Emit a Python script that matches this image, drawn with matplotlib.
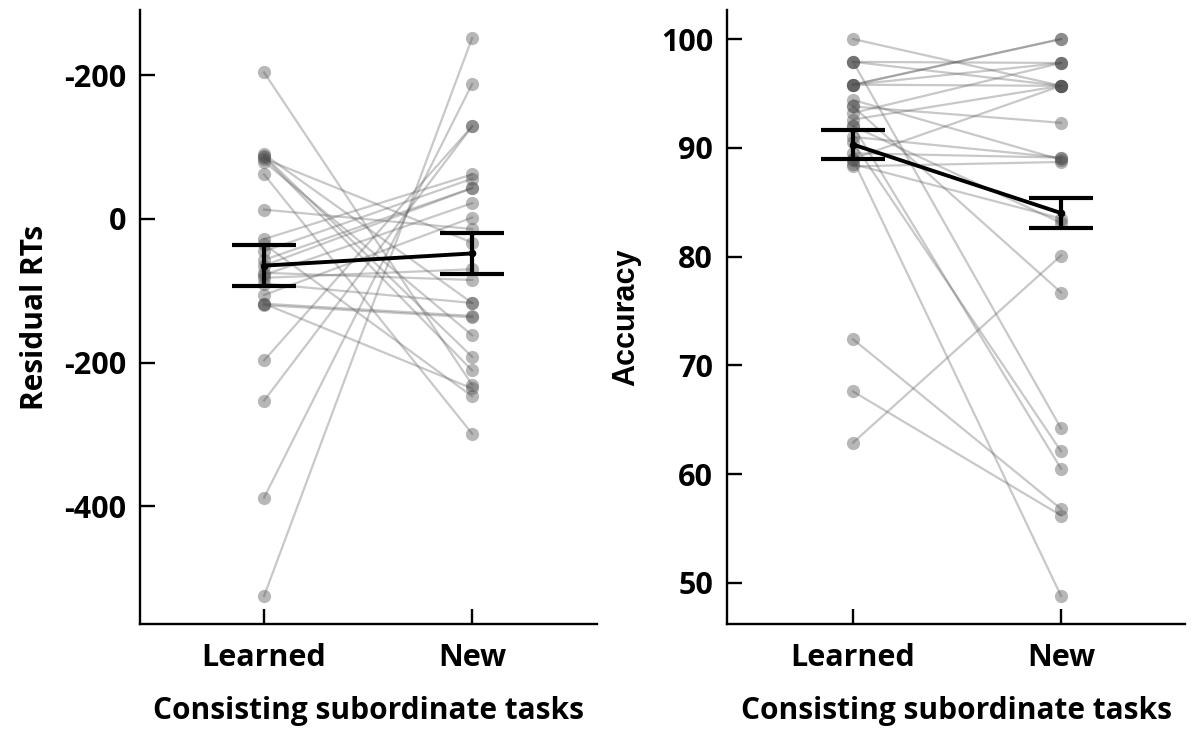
import numpy as np
import matplotlib
matplotlib.use("Agg")
import matplotlib.pyplot as plt

# conditions
conditions = ["Learned", "New"]

# residual RTs per subject (learned, new)
rt_learned = [204, 88, 86, 84, 62, 13, -28, -45, -57, -65, -78, -82, -106,
              -118, -118, -120, -197, -253, -388, -525, 80, 90, -35, -75, -90]
rt_new = [-231, -192, -211, -33, -299, -14, 62, 56, 43, 43, 22, -70, 2,
          -135, -236, -137, 129, 129, 188, 252, -162, -117, -247, -85, -117]
rt_mean = [-65, -48]
rt_err = [29, 29]

# accuracy per subject (learned, new)
acc_learned = [100, 97.9, 97.9, 97.9, 95.8, 95.8, 95.8, 94.4, 93.8, 93.8, 93.2,
               92.6, 92.0, 92.0, 90.5, 89.5, 88.9, 88.3, 72.4, 67.6, 62.9,
               89.0, 91.0, 88.5, 95.8]
acc_new = [95.7, 97.8, 95.7, 64.2, 100, 97.8, 100, 88.9, 92.3, 76.7, 97.8,
           95.7, 83.1, 60.5, 62.1, 89.1, 48.8, 88.7, 56.8, 56.2, 80.1,
           95.7, 89.1, 83.5, 95.7]
acc_mean = [90.3, 84.0]
acc_err = [1.35, 1.4]

rt_ticks = [200, 0, -200, -400]
rt_ticklabels = ["-200", "0", "-200", "-400"]
acc_ticks = [50, 60, 70, 80, 90, 100]

FONT = "Open Sans"
TICK_FS = 22

fig = plt.figure(figsize=(11.95, 7.34), dpi=100)
ax1 = fig.add_axes([0.1172, 0.1499, 0.3824, 0.8365])
ax2 = fig.add_axes([0.6084, 0.1499, 0.3833, 0.8365])

x = np.arange(2)


def draw_panel(ax, learned, new, mean, err):
    for a, b in zip(learned, new):
        ax.plot(x, [a, b], color="0.35", alpha=0.33, lw=1.6, zorder=1)
        ax.plot(x, [a, b], "o", color="0.3", alpha=0.4, ms=9.5,
                markeredgewidth=0, zorder=2)
    ax.errorbar(x, mean, yerr=err, color="black", lw=2.8, elinewidth=3,
                capsize=23, capthick=3, marker="o", ms=4.5, zorder=5)
    for s in ["top", "right"]:
        ax.spines[s].set_visible(False)
    for s in ["left", "bottom"]:
        ax.spines[s].set_linewidth(1.7)
    ax.tick_params(direction="in", length=11, width=1.7)
    ax.tick_params(axis="y", pad=10)
    ax.tick_params(axis="x", pad=14)
    ax.set_xticks(x)
    ax.set_xticklabels(conditions, fontsize=TICK_FS, fontweight="bold",
                       family=FONT)
    ax.set_xlabel("Consisting subordinate tasks", fontsize=21.5,
                  fontweight="bold", family=FONT, labelpad=16)


draw_panel(ax1, rt_learned, rt_new, rt_mean, rt_err)
ax1.set_xlim(-0.596, 1.60)
ax1.set_ylim(-564, 291)
ax1.set_yticks(rt_ticks)
ax1.set_yticklabels(rt_ticklabels, fontsize=TICK_FS, fontweight="bold",
                    family=FONT)
ax1.set_ylabel("Residual RTs", fontsize=21.5, fontweight="bold", family=FONT,
               labelpad=10)

draw_panel(ax2, acc_learned, acc_new, acc_mean, acc_err)
ax2.set_xlim(-0.606, 1.596)
ax2.set_ylim(46.23, 102.67)
ax2.set_yticks(acc_ticks)
ax2.set_yticklabels([str(t) for t in acc_ticks], fontsize=TICK_FS,
                    fontweight="bold", family=FONT)
ax2.set_ylabel("Accuracy", fontsize=22, fontweight="bold",
               family=["Liberation Sans", "DejaVu Sans"], labelpad=14)

fig.savefig("out.png", dpi=100)
